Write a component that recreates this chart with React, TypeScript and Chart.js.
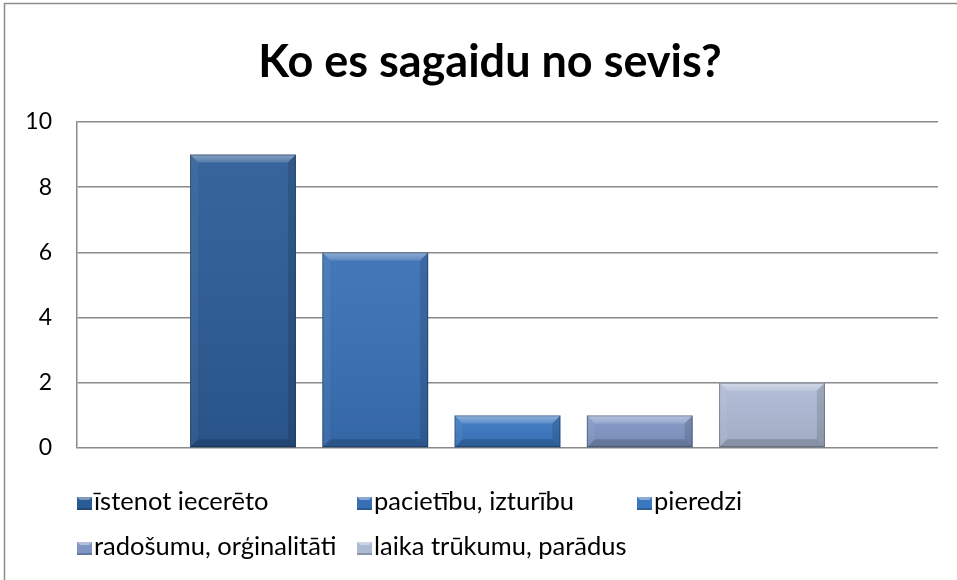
import React, { useEffect, useRef } from "react";
import { Chart, registerables } from "chart.js";

Chart.register(...registerables);

const TITLE = "Ko es sagaidu no sevis?";
const CATEGORIES = [""];
const SERIES_NAMES = [
  "īstenot iecerēto",
  "pacietību, izturību",
  "pieredzi",
  "radošumu, orģinalitāti",
  "laika trūkumu, parādus",
];
const SERIES_VALUES = [9, 6, 1, 1, 2];
const SERIES_COLORS = ["#2b5b95", "#386fb3", "#3a77c0", "#7f96c4", "#adbad4"];
const Y_TICKS = [0, 2, 4, 6, 8, 10];

const FONT = "Lato, 'Open Sans', sans-serif";

const bevelPlugin = {
  id: "bevel",
  afterDatasetsDraw(chart: any) {
    const ctx = chart.ctx;
    chart.data.datasets.forEach((_d: any, i: number) => {
      const meta = chart.getDatasetMeta(i);
      meta.data.forEach((bar: any) => {
        const { x, y, base, width } = bar.getProps(["x", "y", "base", "width"], true);
        const l = x - width / 2;
        const r = x + width / 2;
        const t = Math.min(y, base);
        const b = Math.max(y, base);
        const h = b - t;
        const bv = Math.min(8, h / 3);
        ctx.save();
        const g = ctx.createLinearGradient(0, t, 0, b);
        g.addColorStop(0, "rgba(255,255,255,0.06)");
        g.addColorStop(1, "rgba(0,0,0,0.08)");
        ctx.fillStyle = g;
        ctx.fillRect(l, t, width, h);
        const tg = ctx.createLinearGradient(0, t, 0, t + bv);
        tg.addColorStop(0, "rgba(255,255,255,0.4)");
        tg.addColorStop(1, "rgba(255,255,255,0.15)");
        ctx.fillStyle = tg;
        ctx.beginPath();
        ctx.moveTo(l, t);
        ctx.lineTo(r, t);
        ctx.lineTo(r - bv, t + bv);
        ctx.lineTo(l + bv, t + bv);
        ctx.closePath();
        ctx.fill();
        ctx.fillStyle = "rgba(255,255,255,0.05)";
        ctx.beginPath();
        ctx.moveTo(l, t);
        ctx.lineTo(l + bv, t + bv);
        ctx.lineTo(l + bv, b - bv);
        ctx.lineTo(l, b);
        ctx.closePath();
        ctx.fill();
        ctx.fillStyle = "rgba(0,0,0,0.12)";
        ctx.beginPath();
        ctx.moveTo(r, t);
        ctx.lineTo(r - bv, t + bv);
        ctx.lineTo(r - bv, b - bv);
        ctx.lineTo(r, b);
        ctx.closePath();
        ctx.fill();
        ctx.fillStyle = "rgba(0,0,0,0.16)";
        ctx.beginPath();
        ctx.moveTo(l, b);
        ctx.lineTo(l + bv, b - bv);
        ctx.lineTo(r - bv, b - bv);
        ctx.lineTo(r, b);
        ctx.closePath();
        ctx.fill();
        ctx.strokeStyle = "rgba(0,0,0,0.3)";
        ctx.lineWidth = 1;
        ctx.strokeRect(l + 0.5, t + 0.5, width - 1, h - 1);
        ctx.restore();
      });
    });
  },
};

const framePlugin = {
  id: "frame",
  afterDraw(chart: any) {
    const ctx = chart.ctx;
    ctx.save();
    ctx.strokeStyle = "#8c8c8c";
    ctx.lineWidth = 1.5;
    ctx.beginPath();
    ctx.moveTo(4.5, 600);
    ctx.lineTo(4.5, 3.5);
    ctx.lineTo(960, 3.5);
    ctx.stroke();
    // title
    ctx.fillStyle = "#000";
    ctx.font = `bold 45px ${FONT}`;
    ctx.textAlign = "center";
    ctx.textBaseline = "alphabetic";
    ctx.fillText(TITLE, 490, 77);
    // legend
    const pos = [
      [77, 510],
      [357, 510],
      [637, 510],
      [77, 555],
      [357, 555],
    ];
    ctx.font = `25.5px ${FONT}`;
    ctx.textAlign = "left";
    SERIES_NAMES.forEach((name, i) => {
      const [px, py] = pos[i];
      const w = 15;
      const hh = 13;
      const bx = px;
      const by = py - hh;
      ctx.fillStyle = SERIES_COLORS[i];
      ctx.fillRect(bx, by, w, hh);
      ctx.fillStyle = "rgba(255,255,255,0.4)";
      ctx.beginPath();
      ctx.moveTo(bx, by);
      ctx.lineTo(bx + w, by);
      ctx.lineTo(bx + w - 3, by + 3);
      ctx.lineTo(bx + 3, by + 3);
      ctx.closePath();
      ctx.fill();
      ctx.fillStyle = "rgba(0,0,0,0.2)";
      ctx.fillRect(bx, by + hh - 2, w, 2);
      ctx.fillStyle = "#000";
      ctx.fillText(name, px + 17, py);
    });
    ctx.restore();
  },
};

export default function App() {
  const ref = useRef<HTMLCanvasElement | null>(null);
  useEffect(() => {
    if (!ref.current) return;
    const chart = new Chart(ref.current, {
      type: "bar",
      data: {
        labels: CATEGORIES,
        datasets: SERIES_NAMES.map((name, i) => ({
          label: name,
          data: [SERIES_VALUES[i]],
          backgroundColor: SERIES_COLORS[i],
          borderWidth: 0,
          barPercentage: 0.8,
          categoryPercentage: 0.768,
        })),
      },
      options: {
        animation: false,
        responsive: false,
        maintainAspectRatio: false,
        layout: { padding: { top: 122, bottom: 132, right: 19, left: 0 } },
        plugins: {
          legend: { display: false },
          title: { display: false },
          tooltip: { enabled: false },
        },
        scales: {
          x: { display: false, grid: { display: false } },
          y: {
            min: 0,
            max: 10,
            afterBuildTicks(scale: any) {
              scale.ticks = Y_TICKS.map((v) => ({ value: v }));
            },
            afterFit(scale: any) {
              scale.width = 77;
            },
            ticks: {
              padding: 25,
              color: "#000",
              font: { family: FONT, size: 23 },
            },
            grid: { color: "#8a8a8a", lineWidth: 1.5, drawTicks: false },
            border: { display: true, color: "#8a8a8a", width: 1.5 },
          },
        },
      },
      plugins: [bevelPlugin, framePlugin],
    });
    return () => chart.destroy();
  }, []);
  return (
    <div style={{ position: "fixed", left: 0, top: 0, width: 957, height: 580, background: "#fff" }}>
      <canvas ref={ref} width={957} height={580} style={{ display: "block" }} />
    </div>
  );
}
